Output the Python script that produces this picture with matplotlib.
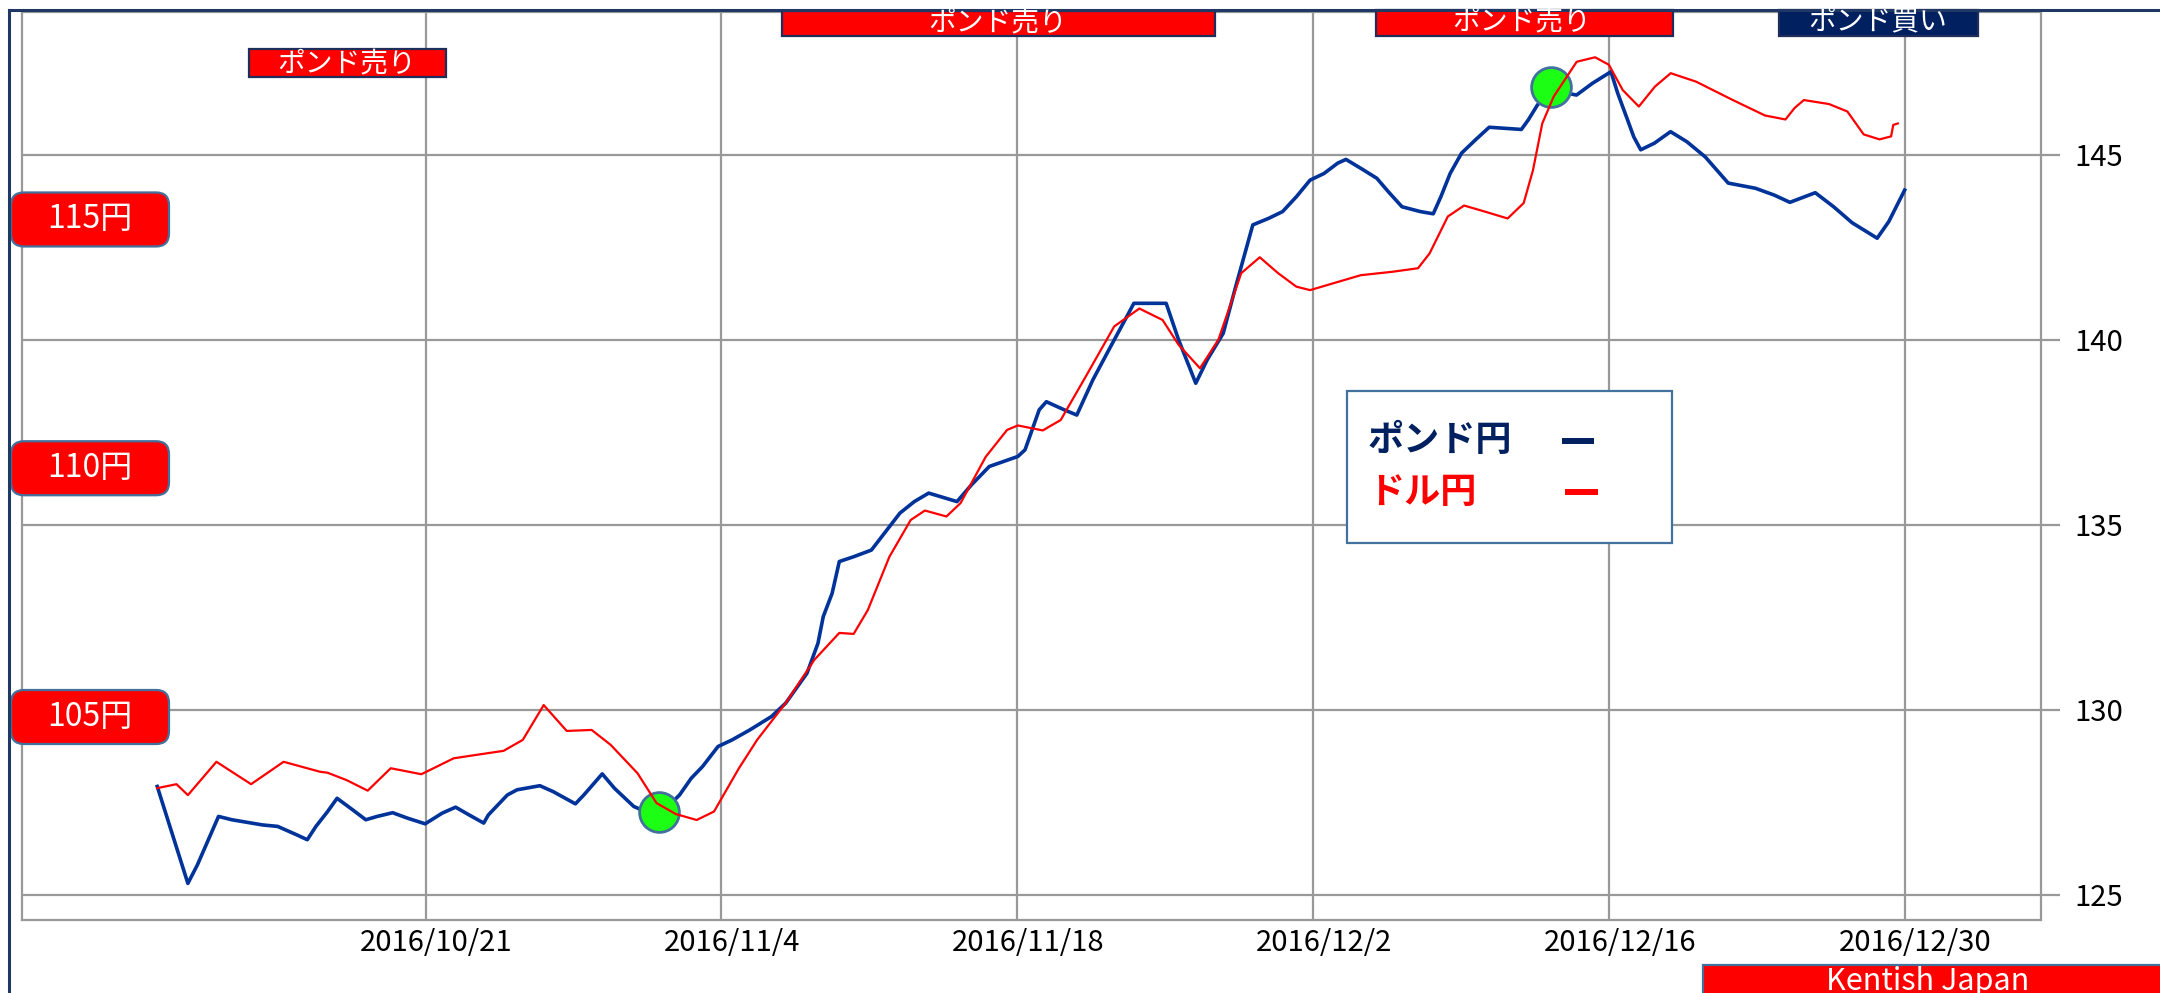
import matplotlib
matplotlib.use('Agg')
import matplotlib.pyplot as plt
from matplotlib.patches import FancyBboxPatch, Rectangle
from matplotlib.lines import Line2D
from matplotlib.transforms import ScaledTranslation

plt.rcParams['font.family'] = ['Noto Sans CJK JP', 'DejaVu Sans']

# x = days counted from 2016/10/21
gbp_days = [-12.70, -11.25, -10.80, -9.80, -9.17, -7.72, -7.00, -6.09, -5.60, -5.19,
            -4.64, -4.19, -3.55, -2.83, -2.29, -1.56, -0.84, -0.02, 0.79, 1.42,
            2.06, 2.75, 2.97, 3.87, 4.33, 5.41, 6.04, 7.09, 7.49, 8.36,
            8.94, 9.85, 10.60, 11.40, 12.02, 12.57, 13.11, 13.84, 14.51, 15.35,
            16.37, 17.04, 18.05, 18.57, 18.82, 19.24, 19.58, 20.26, 21.10, 21.95,
            22.45, 23.13, 23.81, 25.15, 25.83, 26.68, 28.03, 28.37, 29.04, 29.38,
            30.23, 30.82, 31.58, 32.42, 33.27, 33.52, 35.05, 35.64, 36.14, 36.45,
            36.99, 37.75, 38.34, 38.82, 39.15, 39.91, 40.56, 41.21, 41.86, 42.52,
            43.17, 43.56, 44.26, 45.02, 45.56, 46.21, 47.08, 47.69, 48.05, 48.49,
            49.03, 49.69, 50.34, 51.86, 52.19, 52.62, 53.27, 54.47, 55.23, 56.10,
            56.42, 56.86, 57.18, 57.51, 58.16, 58.92, 59.69, 60.56, 61.65, 62.94,
            63.81, 64.57, 65.77, 66.64, 67.51, 68.70, 69.25, 70.00]
gbp_jpy = [127.93, 125.31, 125.81, 127.12, 127.03, 126.89, 126.85, 126.62, 126.49, 126.85,
           127.25, 127.61, 127.34, 127.03, 127.12, 127.22, 127.07, 126.92, 127.21, 127.37,
           127.16, 126.94, 127.16, 127.70, 127.84, 127.95, 127.79, 127.46, 127.70, 128.27,
           127.88, 127.39, 127.20, 127.35, 127.70, 128.15, 128.47, 129.01, 129.19, 129.46,
           129.82, 130.18, 130.99, 131.80, 132.52, 133.15, 134.01, 134.14, 134.32, 134.95,
           135.32, 135.63, 135.86, 135.63, 136.08, 136.58, 136.85, 137.03, 138.11, 138.33,
           138.11, 137.97, 138.92, 139.82, 140.72, 140.99, 140.99, 140.00, 139.28, 138.83,
           139.46, 140.18, 141.44, 142.43, 143.11, 143.29, 143.47, 143.87, 144.32, 144.50,
           144.78, 144.88, 144.64, 144.37, 144.01, 143.60, 143.47, 143.41, 143.87, 144.50,
           145.05, 145.41, 145.75, 145.69, 145.95, 146.35, 146.75, 146.62, 146.94, 147.25,
           146.67, 145.99, 145.49, 145.14, 145.32, 145.63, 145.36, 144.95, 144.24, 144.10,
           143.92, 143.72, 143.98, 143.60, 143.17, 142.75, 143.20, 144.05]

usd_days = [-12.70, -11.79, -11.25, -9.90, -8.26, -6.72, -5.00, -4.64, -3.73, -2.74,
            -1.65, -0.20, 1.33, 2.42, 3.69, 4.60, 5.59, 6.68, 7.86, 8.76,
            10.03, 10.93, 11.84, 12.83, 13.65, 14.83, 15.69, 17.04, 18.40, 19.58,
            20.26, 20.93, 21.95, 22.96, 23.63, 24.65, 25.32, 26.51, 27.52, 28.03,
            29.21, 30.06, 31.24, 32.59, 33.78, 34.88, 35.64, 36.65, 37.52, 38.60,
            39.48, 40.35, 41.21, 41.86, 44.26, 45.78, 46.97, 47.52, 48.38, 49.15,
            50.12, 51.21, 51.97, 52.41, 52.85, 53.39, 54.48, 55.35, 56.00, 56.66,
            57.42, 58.18, 58.93, 60.13, 61.87, 63.39, 64.36, 64.79, 65.23, 66.42,
            67.29, 68.06, 68.81, 69.36, 69.46, 69.68]
usd_jpy = [103.57, 103.65, 103.43, 104.10, 103.65, 104.10, 103.90, 103.88, 103.73, 103.52,
           103.97, 103.85, 104.17, 104.24, 104.32, 104.54, 105.24, 104.72, 104.74, 104.44,
           103.87, 103.27, 103.05, 102.93, 103.10, 103.97, 104.54, 105.28, 106.15, 106.69,
           106.67, 107.15, 108.22, 108.96, 109.15, 109.03, 109.30, 110.23, 110.77, 110.86,
           110.76, 110.97, 111.84, 112.85, 113.21, 112.98, 112.48, 112.01, 112.58, 113.92,
           114.24, 113.92, 113.65, 113.58, 113.88, 113.95, 114.02, 114.32, 115.06, 115.28,
           115.16, 115.02, 115.33, 115.99, 116.93, 117.47, 118.17, 118.26, 118.11, 117.60,
           117.27, 117.67, 117.94, 117.77, 117.40, 117.09, 117.01, 117.24, 117.40, 117.32,
           117.17, 116.71, 116.61, 116.67, 116.90, 116.93]

signal_days = [11.03, 53.27]
signal_gbp = [127.25, 146.83]

tick_days = [0, 14, 28, 42, 56, 70]
tick_labels = ['2016/10/21', '2016/11/4', '2016/11/18', '2016/12/2', '2016/12/16', '2016/12/30']
gbp_ticks = [125, 130, 135, 140, 145]
usd_marks = [105, 110, 115]

W, H = 2160, 993
fig = plt.figure(figsize=(W / 100, H / 100), dpi=100)


def fx(px):
    return px / W


def fy(py):
    return 1 - py / H


grid_c = '#999999'
ax = fig.add_axes([fx(21.6), fy(920), fx(2040.5) - fx(21.6), fy(12) - fy(920)])
ax.set_xlim(-19.12, 76.43)
ax.set_ylim(124.32, 148.865)
ax.plot(gbp_days, gbp_jpy, color='#003399', lw=2.6, zorder=3)
ax.scatter(signal_days, signal_gbp, s=820, color='#1CFF14', edgecolor='#41719C',
           linewidth=2, zorder=4)

ax2 = ax.twinx()
ax2.set_ylim(100.92, 119.17)
ax2.set_yticks([])
for s in ax2.spines.values():
    s.set_visible(False)
ax2.plot(usd_days, usd_jpy, color='#FF0000', lw=1.6, zorder=5)

# twinx moves the first axis to the left, so put GBP ticks back on the right
ax.yaxis.tick_right()
ax.yaxis.set_label_position('right')
ax.set_xticks(tick_days)
ax.set_xticklabels(tick_labels)
ax.set_yticks(gbp_ticks)
ax.grid(True, color=grid_c, lw=1.6)
ax.set_axisbelow(True)
for s in ax.spines.values():
    s.set_color(grid_c)
    s.set_linewidth(1.6)
ax.tick_params(axis='y', left=False, labelleft=False, right=True, labelright=True,
               length=13.7, width=1.6, color=grid_c, pad=11, labelsize=21)
ax.tick_params(axis='x', length=0, pad=6, labelsize=21)
for lab in ax.get_xticklabels():
    lab.set_transform(lab.get_transform() + ScaledTranslation(0.11, 0, fig.dpi_scale_trans))

# left yen labels placed on the USD/JPY scale
for v in usd_marks:
    yd = ax2.transData.transform((0, v))[1]
    fig.add_artist(FancyBboxPatch((11 / W, (yd - 27) / H), 158 / W, 54 / H,
                                  boxstyle='round,pad=0,rounding_size=0.006',
                                  transform=fig.transFigure, facecolor='#FF0000',
                                  edgecolor='#41719C', lw=1.6, mutation_aspect=W / H))
    fig.text(90 / W, yd / H, f'{v}円', color='white', fontsize=23,
             ha='center', va='center')

# top signal boxes
top_boxes = [(249, 49, 446, 77, '#FF0000', 'ポンド売り', 347, 63),
             (782, 11, 1215, 36, '#FF0000', 'ポンド売り', 998, 22),
             (1376, 10, 1673, 36, '#FF0000', 'ポンド売り', 1522, 21),
             (1779, 10, 1978, 36, '#002060', 'ポンド買い', 1878, 21)]
for x0, y0, x1, y1, fc, txt, tx, ty in top_boxes:
    fig.add_artist(Rectangle((fx(x0), fy(y1)), fx(x1) - fx(x0), fy(y0) - fy(y1),
                             transform=fig.transFigure, facecolor=fc,
                             edgecolor='#1F2D5A', lw=1.6))
    fig.text(fx(tx), fy(ty), txt, color='white', fontsize=20, ha='center', va='center')

# legend box
fig.add_artist(Rectangle((fx(1347), fy(543)), fx(1672) - fx(1347), fy(391) - fy(543),
                         transform=fig.transFigure, facecolor='white',
                         edgecolor='#41719C', lw=1.6, zorder=6))
fig.text(fx(1368), fy(441), 'ポンド円', color='#002060', fontsize=26,
         fontweight='bold', ha='left', va='center', zorder=7)
fig.text(fx(1368), fy(493), 'ドル円', color='#FF0000', fontsize=26,
         fontweight='bold', ha='left', va='center', zorder=7)
fig.add_artist(Line2D([fx(1562), fx(1594)], [fy(441), fy(441)], color='#002060',
                      lw=4.3, solid_capstyle='butt', zorder=7))
fig.add_artist(Line2D([fx(1565), fx(1598)], [fy(492), fy(492)], color='#FF0000',
                      lw=4.3, solid_capstyle='butt', zorder=7))

# credit box
fig.add_artist(Rectangle((fx(1703), fy(1005)), fx(2175) - fx(1703), fy(965) - fy(1005),
                         transform=fig.transFigure, facecolor='#FF0000',
                         edgecolor='#41719C', lw=1.6))
fig.text(fx(1928), fy(990), 'Kentish Japan', color='white', fontsize=22,
         ha='center', va='baseline')

# outer frame
fig.add_artist(Line2D([fx(9), fx(9)], [fy(10), fy(993)], color='#203864', lw=2.2))
fig.add_artist(Line2D([fx(9), fx(2160)], [fy(10), fy(10)], color='#203864', lw=2.2))

fig.savefig('out.png', dpi=100)
